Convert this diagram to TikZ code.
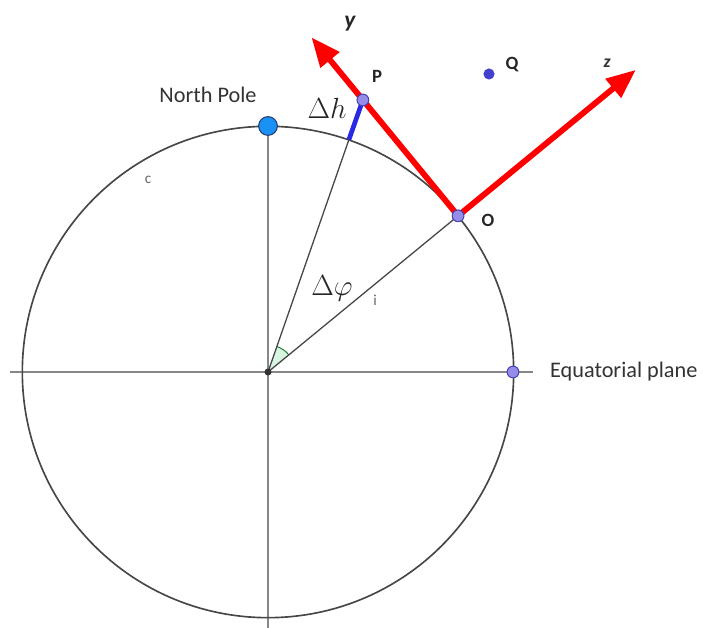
\documentclass[tikz,border=0pt]{standalone}
\usepackage{fontspec}
\setmainfont{Carlito}
\usetikzlibrary{arrows.meta,calc}
\definecolor{circgray}{RGB}{70,70,70}
\definecolor{axgray}{RGB}{135,135,135}
\definecolor{ptfill}{RGB}{150,140,235}
\definecolor{ptdraw}{RGB}{70,70,175}
\definecolor{qfill}{RGB}{65,65,205}
\definecolor{npfill}{RGB}{25,145,245}
\definecolor{npdraw}{RGB}{40,60,110}
\definecolor{segblue}{RGB}{40,40,230}
\definecolor{anglefill}{RGB}{215,245,225}
\definecolor{angledraw}{RGB}{30,120,50}
\begin{document}
\begin{tikzpicture}[x=0.03cm,y=0.03cm,
  axisline/.style={draw=axgray,line width=1.3pt},
  circline/.style={draw=circgray,line width=1.4pt},
  radline/.style={draw=circgray,line width=1.1pt},
  redarrow/.style={draw=red,line width=5pt,-{Triangle[length=25pt,width=20pt]}},
  smallpt/.style={circle,fill=ptfill,draw=ptdraw,line width=0.9pt,inner sep=0pt,minimum size=10pt},
  qpt/.style={circle,fill=qfill,inner sep=0pt,minimum size=9.5pt},
  nppt/.style={circle,fill=npfill,draw=npdraw,line width=0.9pt,inner sep=0pt,minimum size=16pt},
  boldlab/.style={font=\fontsize{16}{18}\selectfont\bfseries,text=black!85},
  biglab/.style={font=\fontsize{19}{22}\selectfont,text=black!80},
  mathlab/.style={font=\fontsize{24}{28}\selectfont,text=black!85},
  tinylab/.style={font=\fontsize{13}{15}\selectfont,text=black!60}
]
\useasboundingbox (0,0) rectangle (703,628);
% key points
\coordinate (C) at (268,256);
\coordinate (NP) at ($(C)+(90:246)$);
\coordinate (E) at ($(C)+(0:245)$);
\coordinate (O) at ($(C)+(39.4:246)$);
\coordinate (F) at ($(C)+(70.8:246)$);
\coordinate (P) at ($(O)+(129.4:150)$);
\coordinate (Ytip) at ($(O)+(129.4:231)$);
\coordinate (Ztip) at ($(O)+(39.4:230)$);
\coordinate (Q) at (489,554);
\coordinate (HL) at (10,256);
\coordinate (HR) at (533,256);
\coordinate (VB) at (268,0);
% axes
\draw[axisline] (HL) -- (HR);
\draw[axisline] (NP) -- (VB);
% circle
\draw[circline] (C) circle [radius=7.37cm];
% angle wedge
\fill[anglefill] (C) -- ($(C)+(39.4:27)$) arc[start angle=39.4,end angle=70.8,radius=27] -- cycle;
\draw[angledraw,line width=0.8pt] ($(C)+(39.4:27)$) arc[start angle=39.4,end angle=70.8,radius=27];
% radii
\draw[radline] (C) -- (F);
\draw[radline] (C) -- (O);
\draw[segblue,line width=4pt] (F) -- (P);
% red axes
\draw[redarrow] (O) -- (Ytip);
\draw[redarrow] (O) -- (Ztip);
% points
\node[circle,fill=black!80,inner sep=0pt,minimum size=6pt] (Cpt) at (C) {};
\node[nppt] (NPpt) at (NP) {};
\node[smallpt] (Ept) at (E) {};
\node[smallpt] (Opt) at (O) {};
\node[smallpt] (Ppt) at (P) {};
\node[qpt] (Qpt) at (Q) {};
% labels
\node[biglab] (npl) at (208,533) {North Pole};
\node[biglab,anchor=west] (eql) at (546,256) {Equatorial plane};
\node[tinylab] (cl) at (148,448) {c};
\node[tinylab] (il) at (375,328) {i};
\node[font=\fontsize{20}{22}\selectfont\bfseries\itshape,text=black!85] (yl) at (350,604) {y};
\node[font=\fontsize{15}{17}\selectfont\bfseries\itshape,text=black!80] (zl) at (607,565) {z};
\node[boldlab] (pl) at (377,552) {P};
\node[boldlab] (ql) at (512,563) {Q};
\node[boldlab] (ol) at (488,408) {O};
\node[mathlab] (dhl) at (327,520) {$\Delta h$};
\node[mathlab] (dpl) at (332,340) {$\Delta\varphi$};
\end{tikzpicture}
\end{document}
